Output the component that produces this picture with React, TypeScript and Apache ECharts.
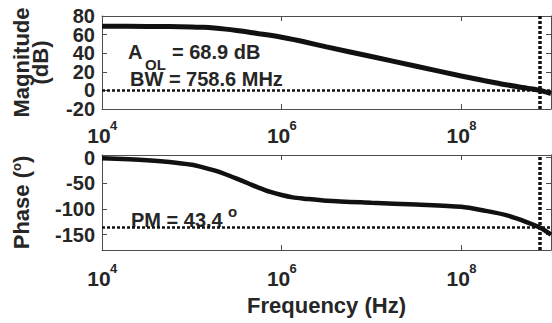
import React, { useEffect, useRef } from "react";
import * as echarts from "echarts";

const freqHz = [1e4, 3.16e4, 5.62e4, 1e5, 1.33e5, 1.78e5, 2.37e5, 3.16e5, 4.22e5, 5.62e5, 7.5e5, 1e6, 1.33e6, 1.78e6, 3.16e6, 1e7, 3.16e7, 1e8, 1.78e8, 3.16e8, 5.62e8, 7.586e8, 1e9];
// Open-loop magnitude (dB)
const magnitudeDb = [68.9, 68.8, 68.6, 68.3, 67.8, 67.0, 65.9, 64.5, 62.9, 61.0, 59.2, 57.2, 54.9, 52.3, 46.8, 36.4, 26.0, 15.5, 10.6, 6.0, 2.2, 0, -3.5];
// Open-loop phase (degrees)
const phaseDeg = [-1.5, -5, -8.5, -14, -19, -25, -32.5, -41, -50, -59, -67, -73, -77.5, -80, -84, -88, -91.5, -96, -103, -112, -127, -136.6, -150];

const xTickValues = [1e4, 1e6, 1e8];
const magTicks = [-20, 0, 20, 40, 60, 80];
const magLabelsA = [-20, 20, 60];
const magLabelsB = [0, 40, 80];
const phaseTicks = [-150, -100, -50, 0];
const bandwidthHz = 758.6e6;
const phaseAtCrossover = -136.6;

const FONT = '"Liberation Sans", Arial, Helvetica, sans-serif';
const TEXT = "#262626";
const AXIS = "#4d4d4d";
const CURVE = "#111111";

export default function App() {
  const ref = useRef<HTMLDivElement>(null);

  useEffect(() => {
    if (!ref.current) return;
    const chart = echarts.init(ref.current, undefined, { renderer: "svg" });

    const axisLine = { show: true, onZero: false, lineStyle: { color: AXIS, width: 1 } };
    const noLine = { show: false, onZero: false };
    const tickStyle = { color: AXIS, width: 1 };

    const baseX = (gridIndex: number, position: "bottom" | "top") => ({
      type: "log",
      logBase: 10,
      min: 1e4,
      max: 1e9,
      gridIndex,
      position,
      minorTick: { show: false },
      splitLine: { show: false },
    });

    // axis with the box line, ticks and the "10" part of the labels
    const mainX = (gridIndex: number, margin: number, extra: any = {}) => ({
      ...baseX(gridIndex, "bottom"),
      axisLine,
      axisTick: { show: true, inside: true, length: 5, customValues: xTickValues, lineStyle: tickStyle },
      axisLabel: {
        show: true,
        customValues: xTickValues,
        margin,
        formatter: () => "10",
        fontSize: 21,
        lineHeight: 21,
        fontWeight: "bold",
        fontFamily: FONT,
        color: TEXT,
        align: "center",
        padding: [0, 6, 0, 0],
      },
      ...extra,
    });

    // overlay axis that only carries the exponents
    const expX = (gridIndex: number, margin: number) => ({
      ...baseX(gridIndex, "bottom"),
      axisLine: noLine,
      axisTick: { show: false },
      axisLabel: {
        show: true,
        customValues: xTickValues,
        margin,
        formatter: (v: number) => String(Math.round(Math.log10(v))),
        fontSize: 13,
        lineHeight: 13,
        fontWeight: "bold",
        fontFamily: FONT,
        color: TEXT,
        align: "left",
        padding: [0, 0, 0, 8],
      },
    });

    const topX = (gridIndex: number) => ({
      ...baseX(gridIndex, "top"),
      axisLine,
      axisTick: { show: true, inside: true, length: 5, customValues: xTickValues, lineStyle: tickStyle },
      axisLabel: { show: false },
    });

    const yLabel = {
      fontSize: 20,
      lineHeight: 14,
      fontWeight: "bold",
      fontFamily: FONT,
      color: TEXT,
      margin: 7,
      hideOverlap: false,
      showMinLabel: true,
      showMaxLabel: true,
    };

    const option: any = {
      animation: false,
      grid: [
        { left: 102, top: 16, right: 1, height: 93 },
        { left: 102, top: 155, right: 1, height: 95 },
      ],
      xAxis: [
        mainX(0, 16),
        topX(0),
        mainX(1, 18, {
          name: "Frequency (Hz)",
          nameLocation: "middle",
          nameGap: 44,
          nameTextStyle: { fontSize: 22, fontWeight: "bold", fontFamily: FONT, color: TEXT },
        }),
        topX(1),
        expX(0, 9.5),
        expX(1, 11.5),
      ],
      yAxis: [
        {
          type: "value",
          gridIndex: 0,
          position: "left",
          min: -20,
          max: 80,
          axisLine,
          axisTick: { show: true, inside: true, length: 5, customValues: magTicks, lineStyle: tickStyle },
          splitLine: { show: false },
          axisLabel: { ...yLabel, customValues: magLabelsA },
          name: "Magnitude\n(dB)",
          nameLocation: "middle",
          nameRotate: 90,
          nameGap: 52,
          nameTextStyle: { fontSize: 22, fontWeight: "bold", fontFamily: FONT, color: TEXT, lineHeight: 19 },
        },
        {
          type: "value",
          gridIndex: 0,
          position: "right",
          min: -20,
          max: 80,
          axisLine,
          axisTick: { show: true, inside: true, length: 5, customValues: magTicks, lineStyle: tickStyle },
          splitLine: { show: false },
          axisLabel: { show: false },
        },
        {
          type: "value",
          gridIndex: 1,
          position: "left",
          min: -180,
          max: 5,
          axisLine,
          axisTick: { show: true, inside: true, length: 5, customValues: phaseTicks, lineStyle: tickStyle },
          splitLine: { show: false },
          axisLabel: { ...yLabel, customValues: phaseTicks },
          name: "Phase ({s|o})",
          nameLocation: "middle",
          nameRotate: 90,
          nameGap: 70,
          nameTextStyle: {
            fontSize: 22,
            fontWeight: "bold",
            fontFamily: FONT,
            color: TEXT,
            rich: {
              s: { fontSize: 13, fontWeight: "bold", fontFamily: FONT, color: TEXT, verticalAlign: "top", lineHeight: 13 },
            },
          },
        },
        {
          type: "value",
          gridIndex: 1,
          position: "right",
          min: -180,
          max: 5,
          axisLine,
          axisTick: { show: true, inside: true, length: 5, customValues: phaseTicks, lineStyle: tickStyle },
          splitLine: { show: false },
          axisLabel: { show: false },
        },
        {
          // overlay carrying the other half of the magnitude tick labels
          type: "value",
          gridIndex: 0,
          position: "left",
          min: -20,
          max: 80,
          axisLine: noLine,
          axisTick: { show: false },
          splitLine: { show: false },
          axisLabel: { ...yLabel, customValues: magLabelsB },
        },
      ],
      series: [
        {
          type: "line",
          xAxisIndex: 0,
          yAxisIndex: 0,
          data: freqHz.map((f, i) => [f, magnitudeDb[i]]),
          showSymbol: false,
          smooth: 0.3,
          lineStyle: { color: CURVE, width: 5 },
          markLine: {
            silent: true,
            symbol: ["none", "none"],
            label: { show: false },
            data: [
              { yAxis: 0, lineStyle: { color: CURVE, width: 2.5, type: [3, 2] } },
              { xAxis: bandwidthHz, lineStyle: { color: CURVE, width: 3.5, type: [3, 2] } },
            ],
          },
        },
        {
          type: "line",
          xAxisIndex: 2,
          yAxisIndex: 2,
          data: freqHz.map((f, i) => [f, phaseDeg[i]]),
          showSymbol: false,
          smooth: 0.3,
          lineStyle: { color: CURVE, width: 4.5 },
          markLine: {
            silent: true,
            symbol: ["none", "none"],
            label: { show: false },
            data: [
              { yAxis: phaseAtCrossover, lineStyle: { color: CURVE, width: 2.5, type: [3, 2] } },
              { xAxis: bandwidthHz, lineStyle: { color: CURVE, width: 3.5, type: [3, 2] } },
            ],
          },
        },
      ],
      graphic: [
        { type: "text", left: 128, top: 42, style: { text: "A", fontSize: 20, lineHeight: 16, fontWeight: "bold", fontFamily: FONT, fill: TEXT } },
        { type: "text", left: 145, top: 57, style: { text: "OL", fontSize: 15, lineHeight: 10, fontWeight: "bold", fontFamily: FONT, fill: TEXT } },
        { type: "text", left: 172, top: 42, style: { text: "= 68.9 dB", fontSize: 20, lineHeight: 16, fontWeight: "bold", fontFamily: FONT, fill: TEXT } },
        { type: "text", left: 130, top: 69, style: { text: "BW = 758.6 MHz", fontSize: 20, lineHeight: 16, fontWeight: "bold", fontFamily: FONT, fill: TEXT } },
        { type: "text", left: 131, top: 210, style: { text: "PM = 43.4", fontSize: 20, lineHeight: 16, fontWeight: "bold", fontFamily: FONT, fill: TEXT } },
        { type: "text", left: 228, top: 204, style: { text: "o", fontSize: 15, lineHeight: 11, fontWeight: "bold", fontFamily: FONT, fill: TEXT } },
      ],
    };

    chart.setOption(option);
    return () => chart.dispose();
  }, []);

  return (
    <div
      ref={ref}
      style={{ position: "fixed", left: 0, top: 0, width: 552, height: 323, background: "#fff" }}
    />
  );
}
